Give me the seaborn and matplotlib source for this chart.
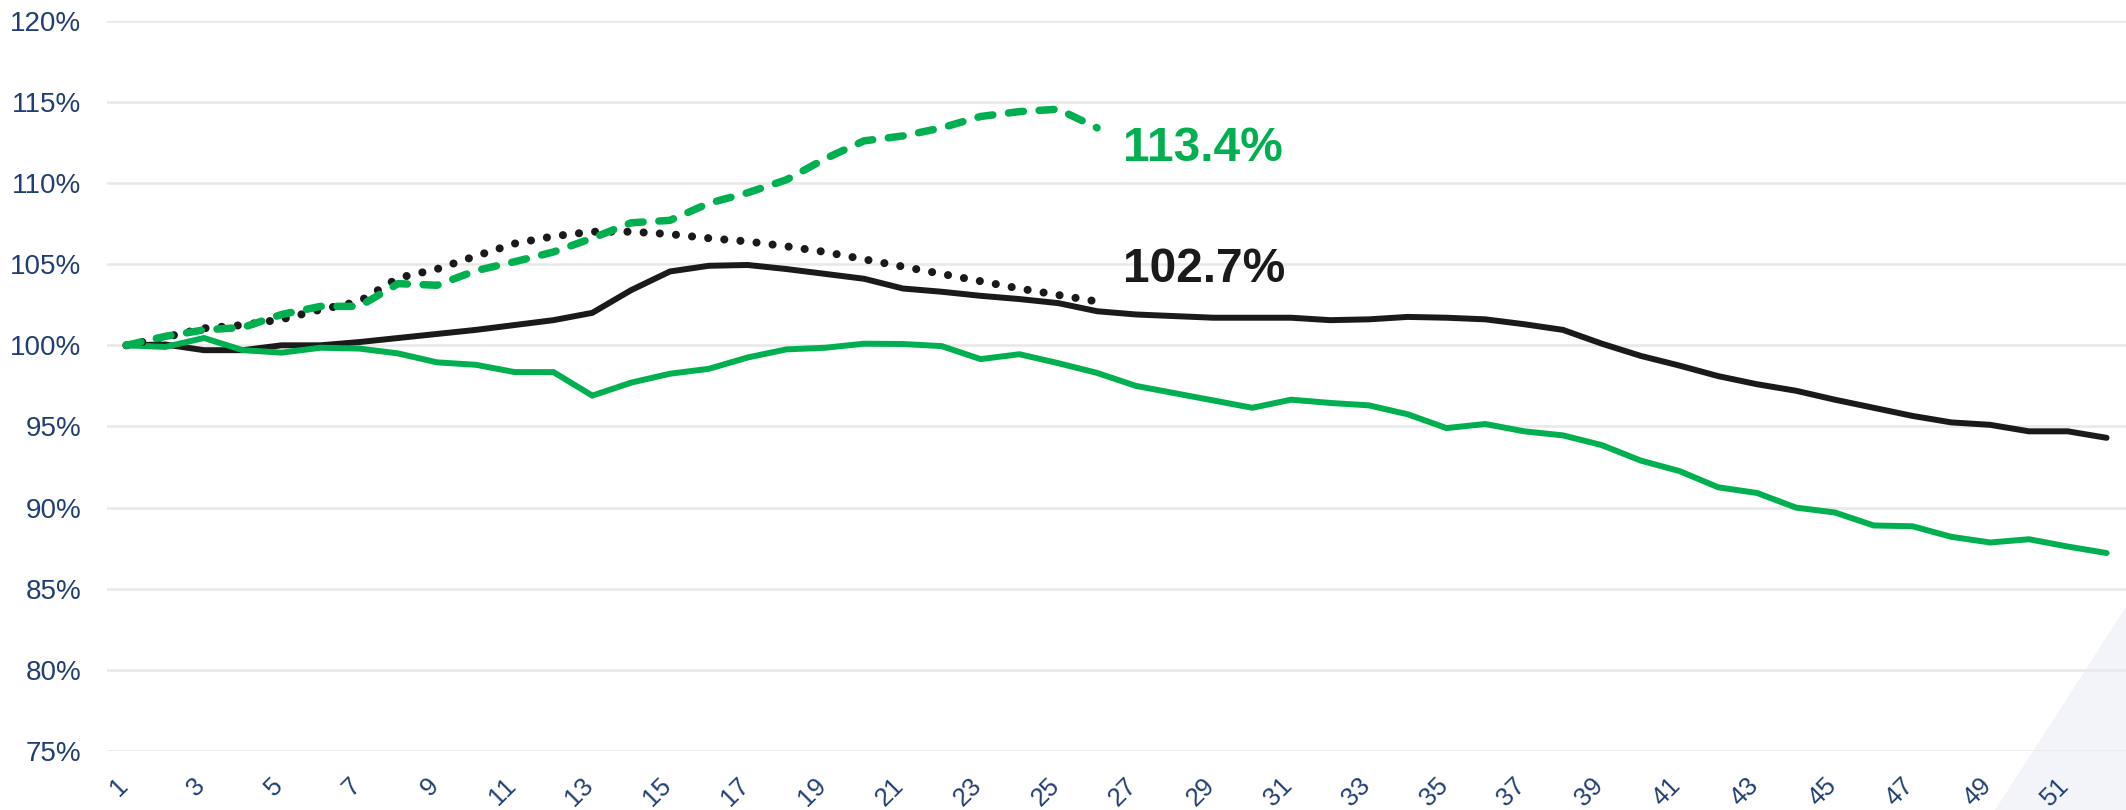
import matplotlib.pyplot as plt
import matplotlib.transforms as mtransforms
import pandas as pd
import seaborn as sns
from matplotlib.patches import Polygon

# week index 1..52
weeks = list(range(1, 53))

black_solid = [100.0, 100.05, 99.7, 99.7, 100.0, 100.0, 100.2, 100.45, 100.7, 100.95,
               101.25, 101.55, 102.0, 103.4, 104.55, 104.9, 104.95, 104.7, 104.4, 104.1,
               103.5, 103.3, 103.05, 102.85, 102.6, 102.1, 101.9, 101.8, 101.7, 101.7,
               101.7, 101.55, 101.6, 101.75, 101.7, 101.6, 101.3, 100.95, 100.1, 99.35,
               98.75, 98.1, 97.6, 97.2, 96.65, 96.15, 95.65, 95.25, 95.1, 94.7,
               94.7, 94.3]

green_solid = [100.0, 99.9, 100.45, 99.7, 99.55, 99.85, 99.8, 99.5, 98.95, 98.8,
               98.35, 98.35, 96.9, 97.7, 98.25, 98.55, 99.25, 99.75, 99.85, 100.1,
               100.08, 99.95, 99.15, 99.45, 98.9, 98.3, 97.5, 97.05, 96.6, 96.15,
               96.65, 96.45, 96.3, 95.75, 94.9, 95.15, 94.7, 94.45, 93.85, 92.9,
               92.25, 91.25, 90.9, 90.0, 89.7, 88.9, 88.85, 88.2, 87.85, 88.05,
               87.6, 87.2]

# shorter series, weeks 1..26
green_dashed = [100.0, 100.55, 100.95, 101.1, 101.9, 102.4, 102.4, 103.8, 103.7, 104.6,
                105.15, 105.75, 106.6, 107.55, 107.7, 108.75, 109.4, 110.2, 111.5, 112.6,
                112.9, 113.4, 114.1, 114.4, 114.55, 113.4]

black_dotted = [100.0, 100.5, 101.05, 101.25, 101.6, 102.2, 102.7, 104.15, 104.7, 105.5,
                106.27, 106.72, 107.0, 107.0, 106.85, 106.6, 106.4, 106.1, 105.75, 105.3,
                104.85, 104.4, 103.95, 103.5, 103.1, 102.7]

tick_weeks = list(range(1, 52, 2))
y_ticks = [75, 80, 85, 90, 95, 100, 105, 110, 115, 120]

GREEN = "#00B050"
BLACK = "#1A1A1A"
BLUE = "#213F75"


def main():
    sns.set_theme(style="white")
    plt.rcParams["font.family"] = ["Liberation Sans", "DejaVu Sans"]

    fig = plt.figure(figsize=(21.26, 8.10), dpi=100)
    ax = fig.add_axes([0.0503, 0.0728, 0.9497, 0.9016])
    ax.patch.set_alpha(0)

    # light decorative triangle in the bottom-right corner
    tri = Polygon([[0.9384, 0.0], [1.0, 0.2506], [1.0, 0.0]], closed=True,
                  transform=fig.transFigure, facecolor="#F3F4F9",
                  edgecolor="none", zorder=-1)
    fig.add_artist(tri)

    full = pd.DataFrame({"week": weeks, "black": black_solid, "green": green_solid})
    short = pd.DataFrame({"week": weeks[:26], "gdash": green_dashed,
                          "bdot": black_dotted})

    sns.lineplot(data=full, x="week", y="black", color=BLACK, linewidth=4.3, ax=ax,
                 solid_joinstyle="miter", zorder=3)
    sns.lineplot(data=full, x="week", y="green", color=GREEN, linewidth=4.3, ax=ax,
                 solid_joinstyle="miter", zorder=3)
    sns.lineplot(data=short, x="week", y="bdot", color=BLACK, linewidth=5.8, ax=ax,
                 linestyle=(0, (0.01, 2.0)), dash_capstyle="round", zorder=4)
    sns.lineplot(data=short, x="week", y="gdash", color=GREEN, linewidth=5.4, ax=ax,
                 linestyle=(0, (2.0, 2.1)), dash_capstyle="round", zorder=5)

    ax.text(26.66, 111.33, "113.4%", color=GREEN, fontsize=34.5,
            fontweight="bold", ha="left", va="baseline")
    ax.text(26.66, 103.93, "102.7%", color=BLACK, fontsize=34.5,
            fontweight="bold", ha="left", va="baseline")

    ax.set_xlim(0.5, 52.5)
    ax.set_ylim(75, 120)
    ax.set_yticks(y_ticks)
    ax.set_yticklabels([f"{v}%" for v in y_ticks])
    ax.set_xticks(tick_weeks)
    ax.set_xticklabels([str(w) for w in tick_weeks], rotation=45, ha="right")
    ax.tick_params(axis="y", length=0, pad=18.5, labelsize=20, labelcolor=BLUE)
    ax.tick_params(axis="x", length=0, pad=16, labelsize=18.5, labelcolor=BLUE)
    # nudge the rotated labels a little to the right, as in the original
    shift = mtransforms.ScaledTranslation(6 / 100, 0, fig.dpi_scale_trans)
    for lab in ax.get_xticklabels():
        lab.set_transform(lab.get_transform() + shift)
    ax.yaxis.grid(True, color="#E8E8E8", linewidth=1.8, zorder=0)
    ax.xaxis.grid(False)
    for s in ax.spines.values():
        s.set_visible(False)
    ax.set_xlabel("")
    ax.set_ylabel("")

    fig.savefig("out.png", dpi=100)


if __name__ == "__main__":
    main()
